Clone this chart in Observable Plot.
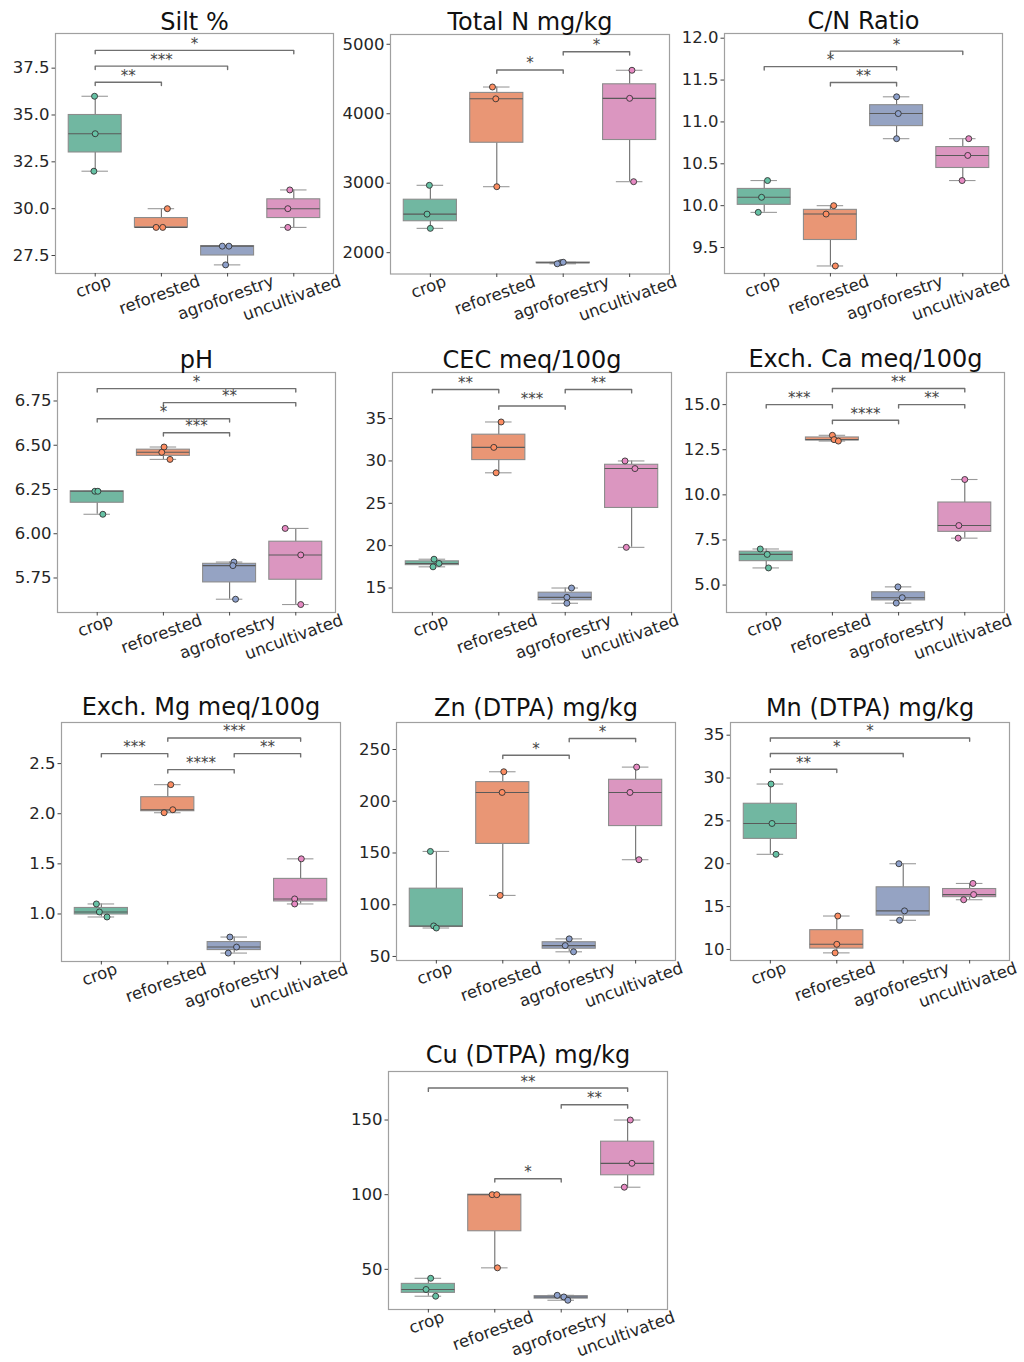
<!DOCTYPE html>
<html>
<head>
<meta charset="utf-8">
<script src="https://cdn.jsdelivr.net/npm/d3@7"></script>
<script src="https://cdn.jsdelivr.net/npm/@observablehq/plot@0.6"></script>
<style>
  body { margin: 0; background: #fff; }
  #fig { position: relative; width: 1024px; height: 1362px; overflow: hidden; background: #fff; }
  #fig svg { position: absolute; overflow: visible; max-width: none; }
</style>
</head>
<body>
<div id="fig"></div>
<script>
// Land-use groups, in plotting order
const groups = ["crop", "reforested", "agroforestry", "uncultivated"];

// Soil measurements: three replicates per land use
const siltValues   = [[36, 34, 32], [30, 29, 29], [28, 28, 27], [31, 30, 29]];
const totalNValues = [[2970, 2555, 2350], [4385, 4215, 2950], [1855, 1862, 1840], [4626, 4222, 3022]];
const cnValues     = [[10.3, 10.1, 9.92], [10.0, 9.9, 9.28], [11.3, 11.1, 10.8], [10.8, 10.6, 10.3]];
const phValues     = [[6.24, 6.24, 6.11], [6.49, 6.46, 6.42], [5.84, 5.82, 5.63], [6.03, 5.88, 5.60]];
const cecValues    = [[18.4, 17.9, 17.5], [34.6, 31.6, 28.6], [15.0, 13.9, 13.2], [30.0, 29.1, 19.8]];
const caValues     = [[7.0, 6.7, 5.95], [13.3, 13.06, 12.98], [4.9, 4.3, 4.0], [10.85, 8.3, 7.6]];
const mgValues     = [[1.10, 1.02, 0.97], [2.29, 2.04, 2.01], [0.77, 0.67, 0.61], [1.55, 1.15, 1.10]];
const znValues     = [[151.5, 79.5, 77.5], [228.5, 208.5, 109], [67, 60.5, 54.5], [233, 208.5, 143.5]];
const mnValues     = [[29.3, 24.7, 21.1], [13.9, 10.6, 9.6], [20.0, 14.5, 13.4], [17.7, 16.4, 15.8]];
const cuValues     = [[44, 36.5, 32], [100, 100, 51], [32.6, 31.5, 29.3], [150, 121, 105]];

// Strip-plot jitter of each replicate, in category widths
const siltJitter   = [[-0.01, 0, -0.02], [0.09, -0.08, 0.02], [-0.08, 0.02, -0.03], [-0.06, -0.09, -0.09]];
const totalNJitter = [[-0.015, -0.05, 0], [-0.065, -0.015, 0], [-0.04, 0, -0.09], [0.035, 0, 0.06]];
const cnJitter     = [[0.05, -0.04, -0.09], [0.05, -0.065, 0.075], [0, 0.025, 0], [0.09, 0.075, -0.01]];
const phJitter     = [[-0.035, 0.01, 0.085], [0.01, -0.025, 0.1], [0.065, 0.05, 0.09], [-0.16, 0.075, 0.075]];
const cecJitter    = [[0.025, 0.1, 0.01], [0.035, -0.075, -0.04], [0.095, 0.025, 0.025], [-0.1, 0.05, -0.08]];
const caJitter     = [[-0.09, 0.015, 0.035], [0, 0.025, 0.09], [-0.01, 0.055, -0.035], [0, -0.09, -0.1]];
const mgJitter     = [[-0.075, -0.03, 0.085], [0.045, 0.075, -0.055], [-0.065, 0.035, -0.09], [0.01, -0.09, -0.09]];
const znJitter     = [[-0.09, -0.04, 0], [0.015, -0.01, -0.04], [0, -0.06, 0.065], [0.015, -0.085, 0.05]];
const mnJitter     = [[0.01, 0.025, 0.085], [0.015, 0, -0.025], [-0.065, 0.02, -0.055], [0.05, 0.06, -0.09]];
const cuJitter     = [[0.035, -0.035, 0.11], [-0.04, 0.03, 0.04], [-0.06, 0.04, 0.1], [0.04, 0.065, -0.05]];

// Pairwise significance: [group A, group B, stars, bracket height]
const siltBrackets   = [["crop", "reforested", "**", 36.75], ["crop", "agroforestry", "***", 37.61], ["crop", "uncultivated", "*", 38.45]];
const totalNBrackets = [["reforested", "agroforestry", "*", 4630], ["agroforestry", "uncultivated", "*", 4893]];
const cnBrackets     = [["reforested", "agroforestry", "**", 11.47], ["crop", "agroforestry", "*", 11.66], ["reforested", "uncultivated", "*", 11.845]];
const phBrackets     = [["reforested", "agroforestry", "***", 6.571], ["crop", "agroforestry", "*", 6.65], ["reforested", "uncultivated", "**", 6.741], ["crop", "uncultivated", "*", 6.82]];
const cecBrackets    = [["crop", "reforested", "**", 38.43], ["reforested", "agroforestry", "***", 36.49], ["agroforestry", "uncultivated", "**", 38.43]];
const caBrackets     = [["reforested", "agroforestry", "****", 14.13], ["crop", "reforested", "***", 15.0], ["agroforestry", "uncultivated", "**", 15.0], ["reforested", "uncultivated", "**", 15.89]];
const mgBrackets     = [["reforested", "agroforestry", "****", 2.44], ["crop", "reforested", "***", 2.60], ["agroforestry", "uncultivated", "**", 2.60], ["reforested", "uncultivated", "***", 2.756]];
const znBrackets     = [["reforested", "agroforestry", "*", 244.5], ["agroforestry", "uncultivated", "*", 260.7]];
const mnBrackets     = [["crop", "reforested", "**", 31.03], ["crop", "agroforestry", "*", 32.86], ["crop", "uncultivated", "*", 34.68]];
const cuBrackets     = [["reforested", "agroforestry", "*", 110.7], ["agroforestry", "uncultivated", "**", 160.2], ["crop", "uncultivated", "**", 171.4]];

// Y tick values
const siltTicks   = [27.5, 30, 32.5, 35, 37.5];
const totalNTicks = [2000, 3000, 4000, 5000];
const cnTicks     = [9.5, 10, 10.5, 11, 11.5, 12];
const phTicks     = [5.75, 6, 6.25, 6.5, 6.75];
const cecTicks    = [15, 20, 25, 30, 35];
const caTicks     = [5, 7.5, 10, 12.5, 15];
const mgTicks     = [1, 1.5, 2, 2.5];
const znTicks     = [50, 100, 150, 200, 250];
const mnTicks     = [10, 15, 20, 25, 30, 35];
const cuTicks     = [50, 100, 150];

// Y axis limits
const siltLimits   = [26.54, 39.35];
const totalNLimits = [1693, 5141];
const cnLimits     = [9.19, 12.056];
const phLimits     = [5.555, 6.911];
const cecLimits    = [12.11, 40.44];
const caLimits     = [3.48, 16.78];
const mgLimits     = [0.526, 2.91];
const znLimits     = [46.1, 276.1];
const mnLimits     = [8.71, 36.48];
const cuLimits     = [23.1, 182.5];

// Panel definitions; frame = [left, top, right, bottom] of the plotting area on the page
const panels = [
  {title: "Silt %",            values: siltValues,   jitter: siltJitter,   brackets: siltBrackets,   ticks: siltTicks,   fmt: ".1f", limits: siltLimits,   frame: [55, 33, 333, 273],    titleBase: 29},
  {title: "Total N mg/kg",     values: totalNValues, jitter: totalNJitter, brackets: totalNBrackets, ticks: totalNTicks, fmt: "d",   limits: totalNLimits, frame: [390, 33.5, 669, 273], titleBase: 28.5},
  {title: "C/N Ratio",         values: cnValues,     jitter: cnJitter,     brackets: cnBrackets,     ticks: cnTicks,     fmt: ".1f", limits: cnLimits,     frame: [724, 33, 1002, 273],  titleBase: 28.5},
  {title: "pH",                values: phValues,     jitter: phJitter,     brackets: phBrackets,     ticks: phTicks,     fmt: ".2f", limits: phLimits,     frame: [57, 372, 335, 612],   titleBase: 367},
  {title: "CEC meq/100g",      values: cecValues,    jitter: cecJitter,    brackets: cecBrackets,    ticks: cecTicks,    fmt: "d",   limits: cecLimits,    frame: [392, 372, 671, 612],  titleBase: 367},
  {title: "Exch. Ca meq/100g", values: caValues,     jitter: caJitter,     brackets: caBrackets,     ticks: caTicks,     fmt: ".1f", limits: caLimits,     frame: [726, 372, 1004, 612], titleBase: 366.5},
  {title: "Exch. Mg meq/100g", values: mgValues,     jitter: mgJitter,     brackets: mgBrackets,     ticks: mgTicks,     fmt: ".1f", limits: mgLimits,     frame: [61, 722, 340, 961],   titleBase: 714},
  {title: "Zn (DTPA) mg/kg",   values: znValues,     jitter: znJitter,     brackets: znBrackets,     ticks: znTicks,     fmt: "d",   limits: znLimits,     frame: [396, 722, 675, 960],  titleBase: 715},
  {title: "Mn (DTPA) mg/kg",   values: mnValues,     jitter: mnJitter,     brackets: mnBrackets,     ticks: mnTicks,     fmt: "d",   limits: mnLimits,     frame: [730, 722, 1009, 960], titleBase: 715},
  {title: "Cu (DTPA) mg/kg",   values: cuValues,     jitter: cuJitter,     brackets: cuBrackets,     ticks: cuTicks,     fmt: "d",   limits: cuLimits,     frame: [388, 1071, 667, 1309], titleBase: 1062}
];

// Set2 palette: desaturated for the boxes, full strength for the points
const boxFill = ["#71b7a1", "#e99675", "#95a3c3", "#db96c0"];
const dotFill = ["#66c2a5", "#fc8d62", "#8da0cb", "#e78ac3"];

const FONT = "DejaVu Sans";
const TICK_FONT = 16.5;
const ROT = 20;
const fig = document.getElementById("fig");

// Rotated category labels hang below the axis: offset each by half its rotated height
const measure = document.createElement("canvas").getContext("2d");
measure.font = `${TICK_FONT}px "${FONT}"`;
const sinR = Math.sin(ROT * Math.PI / 180), cosR = Math.cos(ROT * Math.PI / 180);
const labelOffset = g => 4 + (measure.measureText(g).width * sinR + 17 * cosR) / 2;

function drawPanel(p) {
  const [L, T, R, B] = p.frame;
  const mL = 70, mR = 40, mT = 50, mB = 80;
  const gi = g => groups.indexOf(g);

  // Box statistics (linear-interpolated quartiles, whiskers at the extremes)
  const stats = p.values.map((v, i) => {
    const s = [...v].sort(d3.ascending);
    return {i, lo: s[0], q1: d3.quantile(s, 0.25), med: d3.quantile(s, 0.5), q3: d3.quantile(s, 0.75), hi: s[s.length - 1]};
  });
  const points = p.values.flatMap((v, i) => v.map((y, k) => ({i, y, x: i + p.jitter[i][k]})));

  // Brackets drawn as ⌐¬ shapes with short downward tips
  const tip = (p.limits[1] - p.limits[0]) * 0.014;
  const brackets = p.brackets.map(([a, b, label, y], id) => ({a: gi(a), b: gi(b), label, y, id}));
  const bracketPath = brackets.flatMap(d => [
    {id: d.id, x: d.a, y: d.y - tip}, {id: d.id, x: d.a, y: d.y},
    {id: d.id, x: d.b, y: d.y}, {id: d.id, x: d.b, y: d.y - tip}
  ]);

  const lineColor = "#6e6e6e";
  const chart = Plot.plot({
    width: R - L + mL + mR,
    height: B - T + mT + mB,
    marginLeft: mL, marginRight: mR, marginTop: mT, marginBottom: mB,
    x: {domain: [-0.6, 3.6]},
    y: {domain: p.limits},
    color: {type: "identity"},
    style: {fontFamily: FONT, fontSize: `${TICK_FONT}px`, color: "#262626", background: "transparent", overflow: "visible"},
    marks: [
      Plot.frame({stroke: "#a0a0a0", strokeWidth: 1.2}),
      // whiskers
      Plot.ruleX(stats, {x: "i", y1: "lo", y2: "q1", stroke: lineColor, strokeWidth: 1.1}),
      Plot.ruleX(stats, {x: "i", y1: "q3", y2: "hi", stroke: lineColor, strokeWidth: 1.1}),
      // caps
      Plot.ruleY(stats, {y: "lo", x1: d => d.i - 0.2, x2: d => d.i + 0.2, stroke: "#9a9a9a", strokeWidth: 1.1}),
      Plot.ruleY(stats, {y: "hi", x1: d => d.i - 0.2, x2: d => d.i + 0.2, stroke: "#9a9a9a", strokeWidth: 1.1}),
      // boxes and medians
      Plot.rect(stats, {x1: d => d.i - 0.4, x2: d => d.i + 0.4, y1: "q1", y2: "q3", fill: d => boxFill[d.i], stroke: "#8c8c8c", strokeWidth: 1.1}),
      Plot.ruleY(stats, {y: "med", x1: d => d.i - 0.4, x2: d => d.i + 0.4, stroke: "#5a5a5a", strokeWidth: 1.1}),
      // replicate points
      Plot.dot(points, {x: "x", y: "y", r: 3, fill: d => dotFill[d.i], stroke: "#333", strokeWidth: 0.9}),
      // significance brackets and stars
      Plot.line(bracketPath, {x: "x", y: "y", z: "id", stroke: "#707070", strokeWidth: 1.4}),
      Plot.text(brackets, {x: d => (d.a + d.b) / 2, y: "y", text: "label", lineAnchor: "bottom", dy: -1.5, fontSize: 15, fill: "#444"}),
      // axes
      Plot.axisY(p.ticks, {tickFormat: d3.format(p.fmt), tickSize: 3.5, tickPadding: 2.5, label: null, stroke: "#444"}),
      Plot.axisX([0, 1, 2, 3], {tickFormat: () => "", tickSize: 3.5, label: null, stroke: "#444"}),
      ...groups.map((g, i) => Plot.text([g], {x: () => i, text: d => d, frameAnchor: "bottom", rotate: -ROT, dy: labelOffset(g), fontSize: TICK_FONT, fill: "#262626"})),
      // panel title
      Plot.text([p.title], {text: d => d, frameAnchor: "top", lineAnchor: "bottom", dy: -(T - p.titleBase), fontSize: 24, fill: "#111"})
    ]
  });
  chart.style.left = `${L - mL}px`;
  chart.style.top = `${T - mT}px`;
  fig.appendChild(chart);
}

panels.forEach(drawPanel);
</script>
</body>
</html>
